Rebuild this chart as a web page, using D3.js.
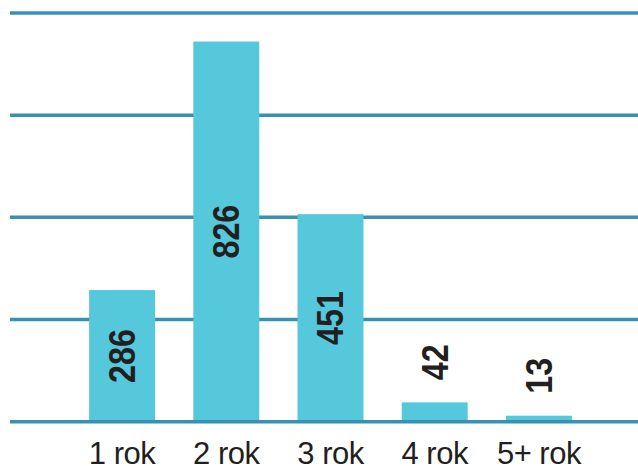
<!DOCTYPE html>
<html>
<head>
<meta charset="utf-8">
<script src="https://cdn.jsdelivr.net/npm/d3@7"></script>
<style>
  body { margin: 0; background: #fff; }
  svg { display: block; }
  text { font-family: "Liberation Sans", Arial, sans-serif; fill: #231f20; }
</style>
</head>
<body>
<script>
// data
var categories = ["1 rok", "2 rok", "3 rok", "4 rok", "5+ rok"];
var counts = [286, 826, 451, 42, 13];
var gridTicks = [0, 222, 444, 666, 888];

window.onload = function () {
	var width = 638, height = 466;
	var barColor = "#55c8dc", gridColor = "#3792b1";

	var svg = d3.select("body").append("svg").attr("width", width).attr("height", height);

	var x = d3.scaleBand().domain(categories).range([37, 624]).paddingInner(0.367).paddingOuter(0.5);
	var y = d3.scaleLinear().domain([0, 888]).range([421.7, 13]);

	// grid lines (bars cover them, except the base line)
	svg.append("g").selectAll("line").data(gridTicks.slice(1)).enter().append("line")
		.attr("x1", 10).attr("x2", width)
		.attr("y1", function (d) { return y(d); }).attr("y2", function (d) { return y(d); })
		.attr("stroke", gridColor).attr("stroke-width", 3.5);

	svg.append("g").selectAll("rect").data(counts).enter().append("rect")
		.attr("x", function (d, i) { return x(categories[i]); })
		.attr("width", x.bandwidth())
		.attr("y", function (d) { return y(d); })
		.attr("height", function (d) { return y(0) - y(d); })
		.attr("fill", barColor);

	svg.append("line")
		.attr("x1", 10).attr("x2", width).attr("y1", y(0)).attr("y2", y(0))
		.attr("stroke", gridColor).attr("stroke-width", 3.5);

	// value labels, rotated, squeezed a little like the original
	var fs = 36, capH = fs * 0.716;
	svg.append("g").selectAll("text").data(counts).enter().append("text")
		.attr("transform", function (d, i) {
			var cx = x(categories[i]) + x.bandwidth() / 2 + capH / 2;
			var inside = (y(0) - y(d)) > 80;
			var cy = inside ? (y(d) + y(0)) / 2 : y(d) - 22;
			return "translate(" + cx + "," + cy + ") rotate(-90)";
		})
		.attr("text-anchor", function (d) { return (y(0) - y(d)) > 80 ? "middle" : "start"; })
		.attr("font-size", fs).attr("font-weight", "bold")
		.attr("textLength", function (d) { return String(d).length * 18; })
		.attr("lengthAdjust", "spacingAndGlyphs")
		.text(function (d) { return d; });

	// category labels
	svg.append("g").selectAll("text").data(categories).enter().append("text")
		.attr("x", function (d) { return x(d) + x.bandwidth() / 2; })
		.attr("y", 464)
		.attr("text-anchor", "middle")
		.attr("font-size", 31)
		.attr("letter-spacing", -0.5)
		.text(function (d) { return d; });
};
</script>
</body>
</html>
